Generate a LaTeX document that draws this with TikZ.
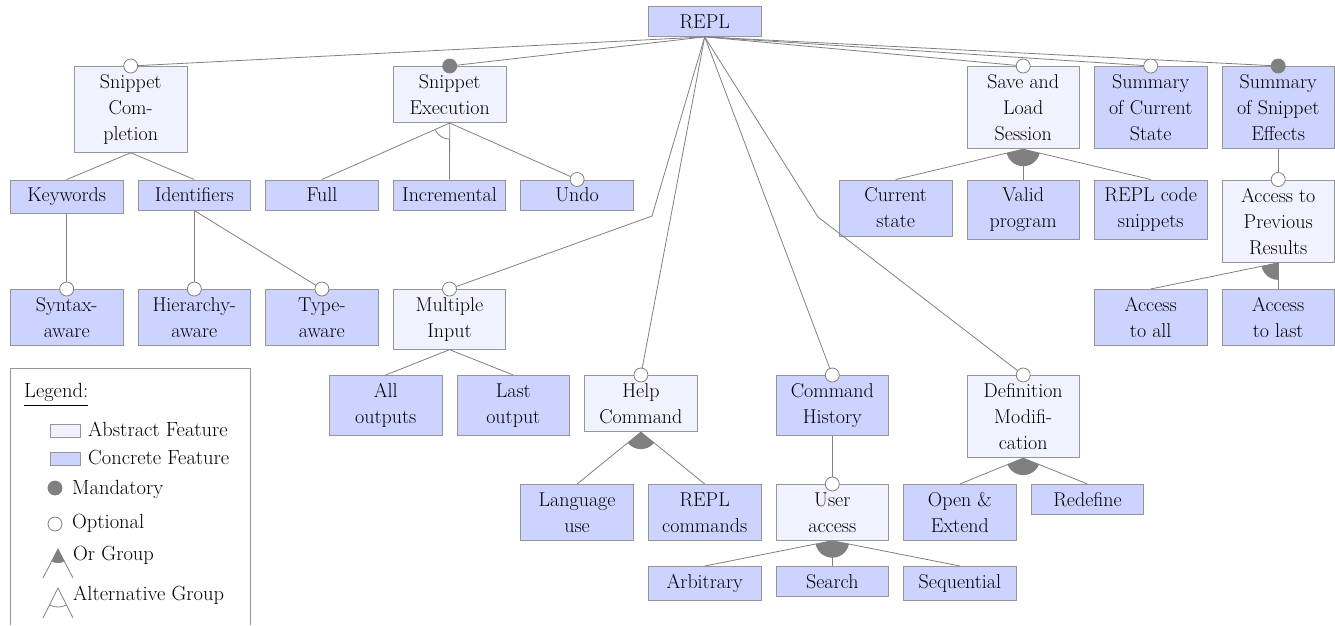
\documentclass[tikz,border=0pt]{standalone}
\usepackage{fontspec}
\definecolor{concf}{RGB}{204,211,255}
\definecolor{absf}{RGB}{240,242,255}
\definecolor{bordc}{RGB}{150,150,150}
\definecolor{linec}{RGB}{128,128,128}
\tikzset{
  feat/.style={draw=bordc, line width=0.9, anchor=north west, minimum width=112.5, align=center, inner xsep=2, inner ysep=8, font=\fontsize{20}{26}\selectfont},
  conc/.style={feat, fill=concf},
  abst/.style={feat, fill=absf},
  conn/.style={draw=linec, line width=0.8},
  opt/.style={circle, draw=linec, fill=white, line width=0.8, minimum size=14, inner sep=0},
  mand/.style={circle, draw=linec, fill=linec, line width=0.8, minimum size=14, inner sep=0},
  legtext/.style={anchor=base west, inner sep=0, font=\fontsize{20.5}{26}\selectfont},
}
\newcommand\orgrp[3]{\begin{scope}\clip (#1.south) -- (#2.north) -- (#3.north) -- cycle; \fill[linec] (#1.south) circle (17);\end{scope}}
\newcommand\altgrp[3]{\begin{scope}\clip (#1.south) -- (#2.north) -- (#3.north) -- cycle; \draw[linec, line width=0.8] (#1.south) circle (16);\end{scope}}
\begin{document}
\begin{tikzpicture}[x=1pt,y=-1pt]
\useasboundingbox (0,0) rectangle (1335,625);
% nodes
\node[conc] (repl) at (648,6) {REPL};
\node[abst] (sc) at (74,66) {Snippet\\Com-\\pletion};
\node[abst] (se) at (393,66) {Snippet\\Execution};
\node[abst] (sl) at (966.5,66) {Save and\\Load\\Session};
\node[conc] (scs) at (1094,66) {Summary\\of Current\\State};
\node[conc] (sse) at (1221.5,66) {Summary\\of Snippet\\Effects};
\node[conc] (kw) at (10,179.5) {Keywords};
\node[conc] (idf) at (137.6,179.5) {Identifiers};
\node[conc] (full) at (265.2,179.5) {Full};
\node[conc] (inc) at (392.8,179.5) {Incremental};
\node[conc] (undo) at (520.4,179.5) {Undo};
\node[conc] (cs) at (839,179.5) {Current\\state};
\node[conc] (vp) at (966.5,179.5) {Valid\\program};
\node[conc] (rcs) at (1094,179.5) {REPL code\\snippets};
\node[abst] (apr) at (1221.5,179.5) {Access to\\Previous\\Results};
\node[conc] (syn) at (10,289) {Syntax-\\aware};
\node[conc] (hier) at (137.6,289) {Hierarchy-\\aware};
\node[conc] (typ) at (265.2,289) {Type-\\aware};
\node[abst] (mi) at (392.8,289) {Multiple\\Input};
\node[conc] (aall) at (1094,289) {Access\\to all};
\node[conc] (alast) at (1221.5,289) {Access\\to last};
\node[conc] (allo) at (329,375) {All\\outputs};
\node[conc] (lasto) at (456.6,375) {Last\\output};
\node[abst] (hc) at (584.2,375) {Help\\Command};
\node[conc] (ch) at (775.6,375) {Command\\History};
\node[abst] (dm) at (966.5,375) {Definition\\Modifi-\\cation};
\node[conc] (lu) at (520.4,484) {Language\\use};
\node[conc] (rc) at (648,484) {REPL\\commands};
\node[abst] (ua) at (775.6,484) {User\\access};
\node[conc] (oe) at (903.2,484) {Open \&\\Extend};
\node[conc] (red) at (1030.8,484) {Redefine};
\node[conc] (arb) at (648,566) {Arbitrary};
\node[conc] (srch) at (775.6,566) {Search};
\node[conc] (seq) at (903.2,566) {Sequential};
% bends
\coordinate (bendA) at (652,216);
\coordinate (bendB) at (818,217);
% groups
\altgrp{se}{full}{inc}
\orgrp{hc}{lu}{rc}
\orgrp{ua}{arb}{seq}
\orgrp{dm}{oe}{red}
\orgrp{sl}{cs}{rcs}
\orgrp{apr}{aall}{alast}
% connectors
\draw[conn] (repl.south) -- (sc.north);
\draw[conn] (repl.south) -- (se.north);
\draw[conn] (repl.south) -- (bendA) -- (mi.north);
\draw[conn] (repl.south) -- (hc.north);
\draw[conn] (repl.south) -- (ch.north);
\draw[conn] (repl.south) -- (bendB) -- (dm.north);
\draw[conn] (repl.south) -- (sl.north);
\draw[conn] (repl.south) -- (scs.north);
\draw[conn] (repl.south) -- (sse.north);
\draw[conn] (sc.south) -- (kw.north);
\draw[conn] (sc.south) -- (idf.north);
\draw[conn] (kw.south) -- (syn.north);
\draw[conn] (idf.south) -- (hier.north);
\draw[conn] (idf.south) -- (typ.north);
\draw[conn] (se.south) -- (full.north);
\draw[conn] (se.south) -- (inc.north);
\draw[conn] (se.south) -- (undo.north);
\draw[conn] (mi.south) -- (allo.north);
\draw[conn] (mi.south) -- (lasto.north);
\draw[conn] (hc.south) -- (lu.north);
\draw[conn] (hc.south) -- (rc.north);
\draw[conn] (ch.south) -- (ua.north);
\draw[conn] (ua.south) -- (arb.north);
\draw[conn] (ua.south) -- (srch.north);
\draw[conn] (ua.south) -- (seq.north);
\draw[conn] (dm.south) -- (oe.north);
\draw[conn] (dm.south) -- (red.north);
\draw[conn] (sl.south) -- (cs.north);
\draw[conn] (sl.south) -- (vp.north);
\draw[conn] (sl.south) -- (rcs.north);
\draw[conn] (sse.south) -- (apr.north);
\draw[conn] (apr.south) -- (aall.north);
\draw[conn] (apr.south) -- (alast.north);
% markers
\node[opt] (m1) at (sc.north) {};
\node[mand] (m2) at (se.north) {};
\node[opt] (m3) at (mi.north) {};
\node[opt] (m4) at (hc.north) {};
\node[opt] (m5) at (ch.north) {};
\node[opt] (m6) at (dm.north) {};
\node[opt] (m7) at (sl.north) {};
\node[opt] (m8) at (scs.north) {};
\node[mand] (m9) at (sse.north) {};
\node[opt] (m10) at (syn.north) {};
\node[opt] (m11) at (hier.north) {};
\node[opt] (m12) at (typ.north) {};
\node[opt] (m13) at (undo.north) {};
\node[opt] (m14) at (ua.north) {};
\node[opt] (m15) at (apr.north) {};
% legend
\draw[draw=bordc, line width=0.9] (10,625) -- (10,368) -- (250.5,368) -- (250.5,625);
\node[legtext] (lt) at (24,397) {Legend:};
\draw[line width=1.1] ([yshift=-4.5]lt.south west) -- ([yshift=-4.5]lt.south east);
\draw[draw=bordc, fill=absf, line width=0.9] (50.7,424.5) rectangle (80,437);
\node[legtext] (l1) at (88,436) {Abstract Feature};
\draw[draw=bordc, fill=concf, line width=0.9] (50.7,452.5) rectangle (80,465.5);
\node[legtext] (l2) at (88,464) {Concrete Feature};
\node[mand] (lm) at (55,488) {};
\node[legtext] (l3) at (72,494) {Mandatory};
\node[opt] (lo) at (55,524) {};
\node[legtext] (l4) at (72,528) {Optional};
\coordinate (orA) at (58,549);
\coordinate (orL) at (43,578);
\coordinate (orR) at (73,578);
\begin{scope}\clip (orA) -- (orL) -- (orR) -- cycle; \fill[linec] (orA) circle (14);\end{scope}
\draw[conn] (orL) -- (orA) -- (orR);
\node[legtext] (l5) at (73,560) {Or Group};
\coordinate (alA) at (58,588);
\coordinate (alL) at (43,618);
\coordinate (alR) at (73,618);
\begin{scope}\clip (alA) -- (alL) -- (alR) -- cycle; \draw[linec, line width=0.8] (alA) circle (19);\end{scope}
\draw[conn] (alL) -- (alA) -- (alR);
\node[legtext] (l6) at (73,600) {Alternative Group};
\end{tikzpicture}
\end{document}
